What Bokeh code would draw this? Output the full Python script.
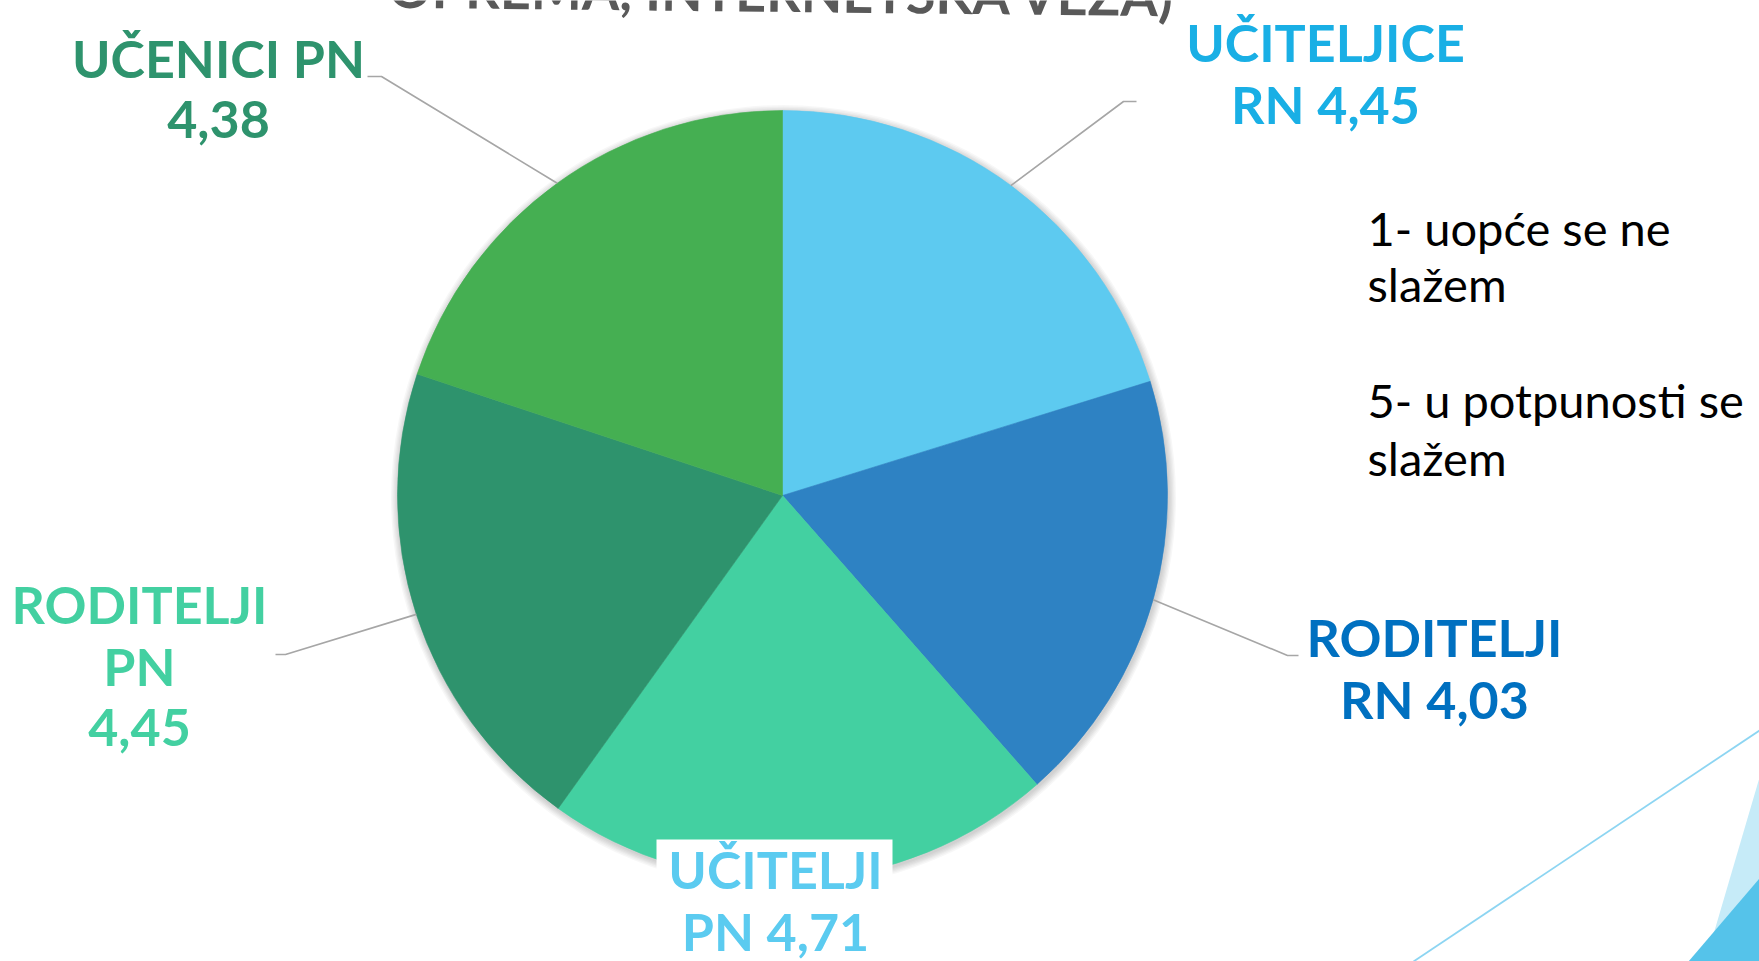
import numpy as np
from bokeh.plotting import figure
from bokeh.models import Range1d, ColumnDataSource
from bokeh.core.properties import value
from bokeh.embed import file_html
from bokeh.resources import INLINE

# ---------------- data ----------------
categories = ["UČITELJICE RN", "RODITELJI RN", "UČITELJI PN", "RODITELJI PN", "UČENICI PN"]
values = [4.45, 4.03, 4.71, 4.45, 4.38]
slice_colors = ["#5DCAF0", "#2E82C3", "#43D0A1", "#2E936D", "#45AF52"]
label_colors = ["#19AFE5", "#0070C0", "#5BCBF0", "#43D0A1", "#2E936D"]
title_text = "OPREMA, INTERNETSKA VEZA)"
legend_lines = ["1- uopće se ne", "slažem", "5- u potpunosti se", "slažem"]

# ---------------- layout (page pixel coordinates) ----------------
W, H = 1759, 961
def Y(py):
    return H - py

TEXT_DY = 20  # correction for text baseline placement
CX, CY, R = 782, 495, 385
label_breaks = [[1], [1], [1], [1, 2], [2]]
label_cx = [1325, 1434, 775, 139, 218]
label_base = [61, 656, 888, 623, 77]
LINE_STEP = 62
leader_corner = [(1123, 101), (1287, 655), None, (285, 654), (381, 76)]
leader_end = [(1136, 101), (1298, 655), None, (275, 654), (367, 76)]
legend_x = 1367
legend_base = [247, 303, 419, 477]

p = figure(width=W, height=H,
           x_range=Range1d(0, W), y_range=Range1d(0, H),
           x_axis_type=None, y_axis_type=None,
           output_backend="svg", toolbar_location=None, min_border=0)
p.xgrid.visible = False
p.ygrid.visible = False
p.outline_line_color = None
p.background_fill_color = "white"
p.border_fill_color = "white"

# decorative background shapes (bottom right)
p.line(x=[1413, 1759], y=[Y(961), Y(730)], line_color="#8DD5F2", line_width=1.8)
p.patch(x=[1759, 1705, 1759], y=[Y(777), Y(961), Y(961)], fill_color="#C6EBF8", line_color=None)
p.patch(x=[1759, 1688, 1759], y=[Y(878), Y(961), Y(961)], fill_color="#55C3EA", line_color=None)

# soft shadow behind pie
for k in range(6):
    p.circle(x=[CX + 1], y=[Y(CY) - 2], radius=R + 1 + 1.3 * k,
             fill_color="black", fill_alpha=0.03, line_color=None)

# pie
vals = np.array(values, dtype=float)
frac = vals / vals.sum()
cum = np.concatenate([[0.0], np.cumsum(frac)])
start = np.pi / 2 - cum[1:] * 2 * np.pi
end = np.pi / 2 - cum[:-1] * 2 * np.pi
src = ColumnDataSource(dict(start=start, end=end, color=slice_colors))
p.wedge(x=CX, y=Y(CY), radius=R, start_angle="start", end_angle="end",
        fill_color="color", line_color="color", line_width=0.6, source=src)

# leader lines
mid = (start + end) / 2
xs, ys = [], []
for i in range(len(values)):
    if leader_corner[i] is None:
        continue
    sx = CX + R * np.cos(mid[i])
    sy = Y(CY) + R * np.sin(mid[i])
    (c1x, c1y), (ex, ey) = leader_corner[i], leader_end[i]
    xs.append([sx, c1x, ex])
    ys.append([sy, Y(c1y), Y(ey)])
p.multi_line(xs=xs, ys=ys, line_color="#A6A6A6", line_width=1.6)

# white box behind bottom label
p.quad(left=[656], right=[892], top=[Y(839)], bottom=[Y(961)], fill_color="white", line_color=None)

# labels
def fmt(v):
    return f"{v:.2f}".replace(".", ",")

lx, ly, lt, lc = [], [], [], []
for i, (cat, v) in enumerate(zip(categories, values)):
    tokens = cat.split() + [fmt(v)]
    cuts = [0] + label_breaks[i] + [len(tokens)]
    for j in range(len(cuts) - 1):
        lx.append(label_cx[i])
        ly.append(Y(label_base[i] + j * LINE_STEP) + TEXT_DY)
        lt.append(" ".join(tokens[cuts[j]:cuts[j + 1]]))
        lc.append(label_colors[i])
p.text(x="x", y="y", text="text", text_color="color",
       source=ColumnDataSource(dict(x=lx, y=ly, text=lt, color=lc)),
       text_font=value("Lato"), text_font_style="bold", text_font_size="52px",
       text_align="center", text_baseline="alphabetic")

# legend text
p.text(x=[legend_x] * len(legend_lines), y=[Y(b) + TEXT_DY for b in legend_base], text=legend_lines,
       text_color="#000000", text_font=value("Lato"), text_font_size="47px",
       text_align="left", text_baseline="alphabetic")

# title (cut at top)
p.text(x=[782], y=[Y(11) + TEXT_DY], text=[title_text], angle=[-0.011],
       text_color="#595959", text_font=value("Lato"), text_font_style="bold",
       text_font_size="54px", text_align="center", text_baseline="alphabetic")

open("out.html", "w").write(file_html(p, INLINE))
